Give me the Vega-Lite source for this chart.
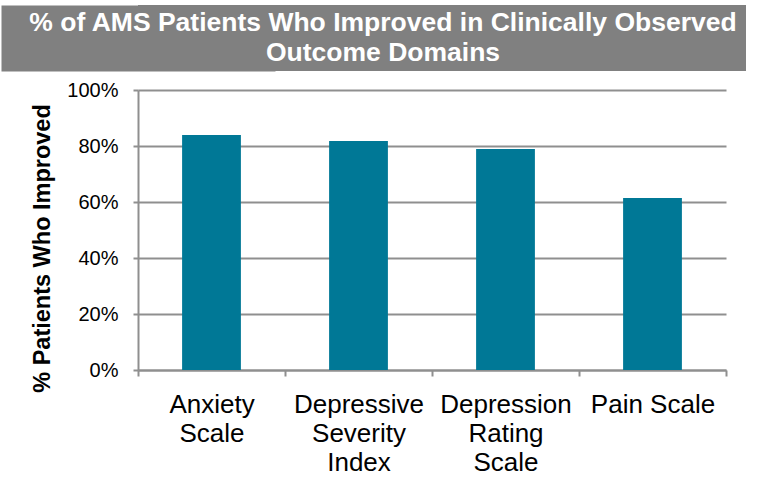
{
  "$schema": "https://vega.github.io/schema/vega-lite/v6.json",
  "padding": {"left": 0, "top": 5, "right": 0, "bottom": 0},
  "background": "white",
  "spacing": 9,
  "config": {"font": "Liberation Sans", "view": {"stroke": null}},
  "vconcat": [
    {
      "width": 608,
      "height": 66,
      "view": {"fill": "#808080", "stroke": null},
      "data": {"values": [{"title": "% of AMS Patients Who Improved in Clinically Observed\nOutcome Domains"}]},
      "mark": {"type": "text", "color": "white", "fontSize": 26.5, "fontWeight": "bold", "lineHeight": 30, "lineBreak": "\n", "align": "center", "baseline": "middle", "dy": -15, "dx": -59},
      "encoding": {
        "text": {"field": "title", "type": "nominal"},
        "y": {
          "datum": 0, "type": "quantitative",
          "scale": {"domain": [-1, 1]},
          "axis": {"title": null, "labels": false, "ticks": false, "grid": false, "domainColor": "#808080", "domainWidth": 274, "domainCap": "butt", "offset": 0}
        }
      }
    },
    {
      "width": 588,
      "height": 280,
      "data": {"values": [
        {"domain": "Anxiety Scale", "pct": 0.839},
        {"domain": "Depressive Severity Index", "pct": 0.818},
        {"domain": "Depression Rating Scale", "pct": 0.789},
        {"domain": "Pain Scale", "pct": 0.614}
      ]},
      "mark": {"type": "bar", "color": "#007896", "width": {"band": 0.4}},
      "encoding": {
        "x": {
          "field": "domain", "type": "nominal", "sort": null,
          "scale": {"paddingInner": 0, "paddingOuter": 0},
          "axis": {
            "title": null, "labelAngle": 0, "labelFontSize": 26, "labelLineHeight": 29,
            "labelColor": "black", "labelPadding": 15, "labelOverlap": false, "labelLimit": 0,
            "labelExpr": "datum.label == 'Pain Scale' ? datum.label : split(datum.label, ' ')",
            "tickSize": 6, "tickBand": "extent", "tickColor": "#8f8f8f", "tickWidth": 2,
            "domainColor": "#8f8f8f", "domainWidth": 2
          }
        },
        "y": {
          "field": "pct", "type": "quantitative",
          "scale": {"domain": [0, 1], "nice": false},
          "axis": {
            "values": [0, 0.2, 0.4, 0.6, 0.8, 1], "format": ".0%",
            "title": ["", "% Patients Who Improved"],
            "titleFontSize": 23.5, "titleFontWeight": "bold", "titleLineHeight": 30,
            "titlePadding": 12, "titleColor": "black", "titleY": 158,
            "labelFontSize": 20, "labelColor": "black", "labelPadding": 15,
            "tickSize": 5, "tickColor": "#8f8f8f", "tickWidth": 2,
            "domainColor": "#8f8f8f", "domainWidth": 2,
            "grid": true, "gridColor": "#8f8f8f", "gridWidth": 2
          }
        }
      }
    }
  ]
}
